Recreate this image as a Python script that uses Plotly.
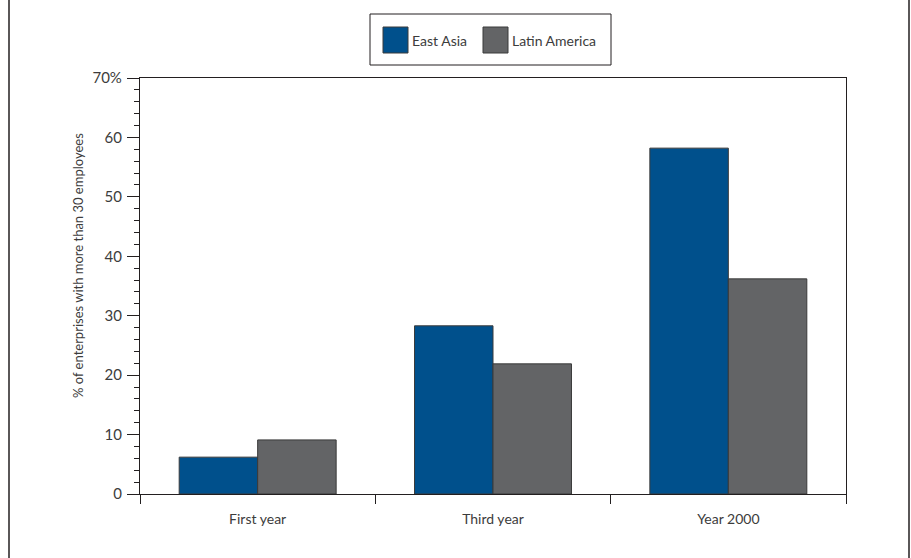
import plotly.graph_objects as go

categories = ["First year", "Third year", "Year 2000"]
series_names = ["East Asia", "Latin America"]
east_asia = [6.2, 28.3, 58.2]
latin_america = [9.1, 21.9, 36.2]
y_tick_vals = [0, 10, 20, 30, 40, 50, 60, 70]
y_tick_text = ["0", "10", "20", "30", "40", "50", "60", "70%"]
y_title = "% of enterprises with more than 30 employees"

colors = ["#00508C", "#636466"]
FONT = "Lato, Open Sans, sans-serif"
TXT = "#3c3c3c"
W, H = 911, 558
L, R, T, B = 140, 65, 78, 64
PW, PH = W - L - R, H - T - B


def px_x(px):
    return (px - L) / PW


def px_y(py):
    return (H - B - py) / PH


fig = go.Figure()
for name, vals, col in zip(series_names, [east_asia, latin_america], colors):
    fig.add_trace(go.Bar(
        x=categories, y=vals, name=name,
        marker=dict(color=col, line=dict(color="#3a3a3a", width=1)),
        showlegend=False,
    ))

shapes = []
annotations = []
# outer frame lines
for xx in (9, 909):
    shapes.append(dict(type="line", xref="paper", yref="paper",
                       x0=px_x(xx), x1=px_x(xx), y0=px_y(-5), y1=px_y(H + 5),
                       line=dict(color="#231f20", width=1.5)))
# custom legend
shapes.append(dict(type="rect", xref="paper", yref="paper",
                   x0=px_x(370), x1=px_x(611), y0=px_y(65), y1=px_y(14),
                   line=dict(color="#231f20", width=1), fillcolor="white"))
for name, col, sx in zip(series_names, colors, (383, 483)):
    shapes.append(dict(type="rect", xref="paper", yref="paper",
                       x0=px_x(sx), x1=px_x(sx + 25), y0=px_y(53), y1=px_y(27),
                       line=dict(color="#3a3a3a", width=1), fillcolor=col))
    annotations.append(dict(text=name, xref="paper", yref="paper",
                            x=px_x(sx + 27), y=px_y(40), xanchor="left",
                            yanchor="middle", showarrow=False,
                            font=dict(family=FONT, size=14, color=TXT)))
# y-axis title
annotations.append(dict(text=y_title, xref="paper", yref="paper",
                        x=px_x(78), y=px_y(266), textangle=-90,
                        xanchor="center", yanchor="middle", showarrow=False,
                        font=dict(family=FONT, size=13, color=TXT)))

fig.update_layout(
    width=W, height=H,
    margin=dict(l=L, r=R, t=T, b=B),
    paper_bgcolor="white", plot_bgcolor="white",
    barmode="group", bargap=0.333, bargroupgap=0,
    font=dict(family=FONT, size=14, color=TXT),
    shapes=shapes, annotations=annotations,
    xaxis=dict(
        showline=True, linecolor="#231f20", linewidth=1.2, mirror=True,
        ticks="outside", tickson="boundaries", ticklen=9,
        tickcolor="#231f20", tickwidth=1.2, ticklabelstandoff=12,
        showgrid=False, tickfont=dict(size=14, color=TXT),
    ),
    yaxis=dict(
        range=[0, 70], tickvals=y_tick_vals, ticktext=y_tick_text,
        showline=True, linecolor="#231f20", linewidth=1.2, mirror=True,
        ticks="outside", ticklen=12, tickcolor="#231f20", tickwidth=1.2,
        ticklabelstandoff=2,
        minor=dict(dtick=2, ticks="outside", ticklen=5,
                   tickcolor="#231f20", tickwidth=1.2, showgrid=False),
        showgrid=False, zeroline=False, tickfont=dict(size=15, color=TXT),
    ),
)

fig.write_html(
    "out.html",
    config={"displayModeBar": False},
    post_script="document.body.style.margin='0';document.body.style.overflow='hidden';",
)
